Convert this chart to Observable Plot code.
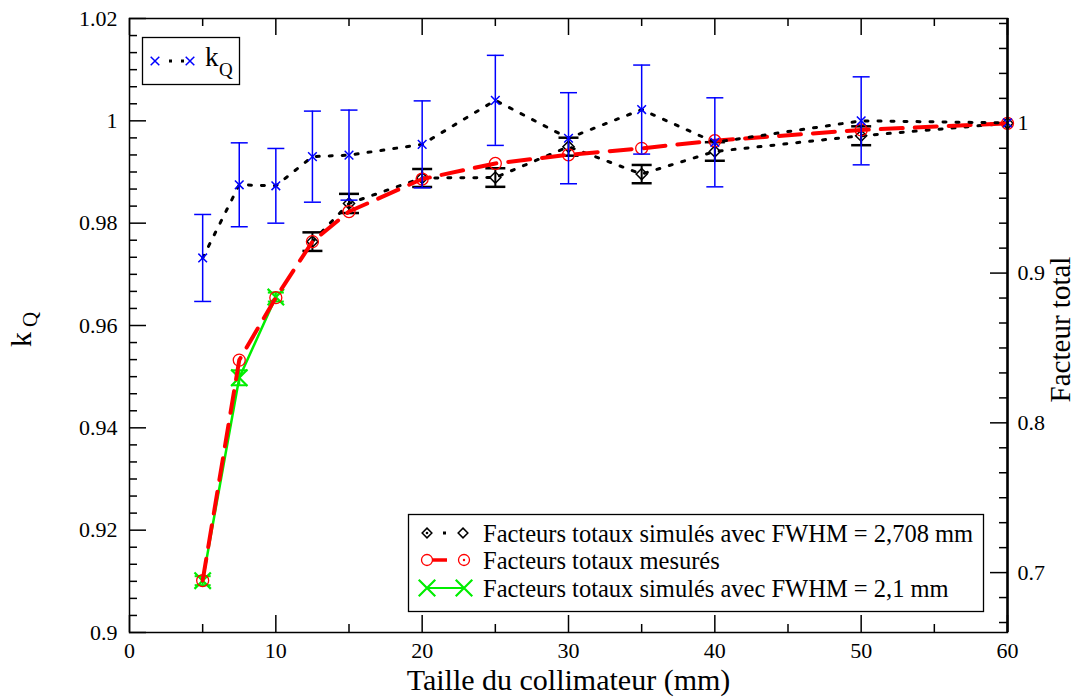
<!DOCTYPE html>
<html><head><meta charset="utf-8">
<script src="https://cdn.jsdelivr.net/npm/d3@7"></script>
<script src="https://cdn.jsdelivr.net/npm/@observablehq/plot@0.6"></script>
<style>body{margin:0;background:#fff}svg{display:block}</style>
</head><body><div id="chart"></div>
<script>
// ---- data ----
const collimator = [5, 7.5, 10, 12.5, 15, 20, 25, 30, 35, 40, 50, 60];
const kQ        = [0.9732, 0.9875, 0.9873, 0.9930, 0.9933, 0.9954, 1.0040, 0.9966, 1.0022, 0.9958, 1.0000, 0.9996];
const kQErr     = [0.0085, 0.0082, 0.0073, 0.0089, 0.0088, 0.0085, 0.0088, 0.0089, 0.0087, 0.0087, 0.0086, 0];
const measured  = [0.6947, 0.8419, 0.8836, 0.9210, 0.9411, 0.9628, 0.9732, 0.9790, 0.9833, 0.9884, 0.9956, 1.0000];
const sim2708X  = [12.5, 15, 20, 25, 30, 35, 40, 50, 60];
const sim2708   = [0.9210, 0.9465, 0.9635, 0.9638, 0.9844, 0.9661, 0.9812, 0.9917, 1.0000];
const sim2708Err= [0.0062, 0.0064, 0.0060, 0.0062, 0.0060, 0.0061, 0.0062, 0.0063, 0];
const sim21X    = [5, 7.5, 10];
const sim21     = [0.6946, 0.8301, 0.8840];
const sim21Err  = [0.0030, 0.0050, 0.0030];
const xTickLabels = [0, 10, 20, 30, 40, 50, 60];
const leftTickLabels = [0.9, 0.92, 0.94, 0.96, 0.98, 1, 1.02];
const rightTickLabels = [0.7, 0.8, 0.9, 1];
const legendKQ = "k";
const legendKQSub = "Q";
const legendSeries = [
  "Facteurs totaux simulés avec FWHM = 2,708 mm",
  "Facteurs totaux mesurés",
  "Facteurs totaux simulés avec FWHM = 2,1 mm"
];
const xLabel = "Taille du collimateur (mm)";
const rightLabel = "Facteur total";

// ---- layout ----
const W = 1081, H = 698, mL = 129, mR = 74, mT = 18, mB = 66;
const plotW = W - mL - mR, plotH = H - mT - mB;
const leftDomain = [0.9, 1.02], rightDomain = [0.66, 1.07];
const toLeft = v => leftDomain[0] + (v - rightDomain[0]) * (leftDomain[1] - leftDomain[0]) / (rightDomain[1] - rightDomain[0]);
const fromLeft = v => rightDomain[0] + (v - leftDomain[0]) * (rightDomain[1] - rightDomain[0]) / (leftDomain[1] - leftDomain[0]);
const FONT = '"Liberation Serif", "Times New Roman", Times, serif';
const BLUE = "#0000ff", RED = "#ff0000", GREEN = "#00ee00", BLACK = "#000";

const kqRows = collimator.map((x, i) => ({x, y: kQ[i], lo: kQ[i] - kQErr[i], hi: kQ[i] + kQErr[i], e: kQErr[i]}));
const measRows = collimator.map((x, i) => ({x, y: toLeft(measured[i])}));
const simRows = sim2708X.map((x, i) => ({x, y: toLeft(sim2708[i]), lo: toLeft(sim2708[i] - sim2708Err[i]), hi: toLeft(sim2708[i] + sim2708Err[i]), e: sim2708Err[i]}));
const s21Rows = sim21X.map((x, i) => ({x, y: toLeft(sim21[i]), lo: toLeft(sim21[i] - sim21Err[i]), hi: toLeft(sim21[i] + sim21Err[i])}));

// tick positions
const xMajor = xTickLabels;
const xMinor = d3.range(5, 60, 10);
const leftAll = d3.range(37).map(i => +(leftDomain[0] + i * 0.02 / 6).toFixed(6));
const leftMajor = leftAll.filter((d, i) => i % 6 === 0);
const leftMinor = leftAll.filter((d, i) => i % 6 !== 0);
const rightAll = d3.range(-2, 23).map(i => ({i, v: 0.7 + i / 60}));
const rightMajor = rightAll.filter(d => d.i % 6 === 0).map(d => toLeft(d.v));
const rightMinor = rightAll.filter(d => d.i % 6 !== 0).map(d => toLeft(d.v));

const cap = {draw(ctx, size) { const r = Math.sqrt(size / Math.PI); ctx.moveTo(-r, 0); ctx.lineTo(r, 0); }};
const MAJ = 17, MIN = 8;

function legends() {
  const g = d3.create("svg:g").attr("font-family", FONT).attr("text-anchor", "start");
  // legend 1
  g.append("rect").attr("x", 142.5).attr("y", 37.5).attr("width", 97).attr("height", 47)
    .attr("fill", "white").attr("stroke", BLACK).attr("stroke-width", 1.3);
  for (const x of [169, 181]) g.append("rect").attr("x", x).attr("y", 59.5).attr("width", 3).attr("height", 3).attr("fill", BLACK);
  for (const x of [155, 190]) g.append("path").attr("transform", `translate(${x},61)`)
    .attr("d", d3.symbol(d3.symbolTimes, 50)()).attr("fill", "none").attr("stroke", BLUE).attr("stroke-width", 1.5);
  g.append("text").attr("x", 205).attr("y", 66).attr("font-size", 27).text(legendKQ);
  g.append("text").attr("x", 219).attr("y", 76).attr("font-size", 19).text(legendKQSub);
  // legend 2
  g.append("rect").attr("x", 408.5).attr("y", 514.5).attr("width", 575).attr("height", 97)
    .attr("fill", "white").attr("stroke", BLACK).attr("stroke-width", 1.3);
  const rows = [533, 560, 588];
  // row 1: black diamonds dotted
  g.append("rect").attr("x", 443).attr("y", rows[0] - 1.5).attr("width", 3).attr("height", 3).attr("fill", BLACK);
  for (const x of [427, 463]) g.append("path").attr("transform", `translate(${x},${rows[0]})`)
    .attr("d", d3.symbol(d3.symbolDiamond2, 60)()).attr("fill", "none").attr("stroke", BLACK).attr("stroke-width", 1.5);
  g.append("circle").attr("cx", 427).attr("cy", rows[0]).attr("r", 1.3).attr("fill", BLACK);
  // row 2: red circles dashed
  g.append("line").attr("x1", 432).attr("x2", 447).attr("y1", rows[1]).attr("y2", rows[1]).attr("stroke", RED).attr("stroke-width", 3.5);
  for (const x of [427, 464]) g.append("circle").attr("cx", x).attr("cy", rows[1]).attr("r", 5.5)
    .attr("fill", "none").attr("stroke", RED).attr("stroke-width", 1.3);
  g.append("circle").attr("cx", 464).attr("cy", rows[1]).attr("r", 1.2).attr("fill", RED);
  // row 3: green X solid
  g.append("line").attr("x1", 427).attr("x2", 464).attr("y1", rows[2]).attr("y2", rows[2]).attr("stroke", GREEN).attr("stroke-width", 2);
  for (const x of [427, 464]) g.append("path").attr("transform", `translate(${x},${rows[2]})`)
    .attr("d", d3.symbol(d3.symbolTimes, 180)()).attr("fill", "none").attr("stroke", GREEN).attr("stroke-width", 2.2);
  legendSeries.forEach((t, i) => g.append("text").attr("x", 483).attr("y", rows[i]).attr("dy", "0.35em")
    .attr("font-size", 24.5).text(t));
  return g.node();
}

const plot = Plot.plot({
  width: W, height: H,
  marginLeft: mL, marginRight: mR, marginTop: mT, marginBottom: mB,
  style: {fontFamily: FONT, fontSize: "22px", background: "white", color: BLACK},
  x: {domain: [0, 60]},
  y: {domain: leftDomain},
  marks: [
    // ticks (inward)
    Plot.tickY(leftMajor, {insetRight: plotW - MAJ, stroke: BLACK, strokeWidth: 1.5}),
    Plot.tickY(leftMinor, {insetRight: plotW - MIN, stroke: BLACK, strokeWidth: 1.5}),
    Plot.tickY(rightMajor, {insetLeft: plotW - MAJ, stroke: BLACK, strokeWidth: 1.5}),
    Plot.tickY(rightMinor, {insetLeft: plotW - MIN, stroke: BLACK, strokeWidth: 1.5}),
    Plot.tickX(xMajor, {insetTop: plotH - MAJ, stroke: BLACK, strokeWidth: 1.5}),
    Plot.tickX(xMinor, {insetTop: plotH - MIN, stroke: BLACK, strokeWidth: 1.5}),
    Plot.tickX(xMajor, {insetBottom: plotH - MAJ, stroke: BLACK, strokeWidth: 1.5}),
    Plot.tickX(xMinor, {insetBottom: plotH - MIN, stroke: BLACK, strokeWidth: 1.5}),
    // axes labels
    Plot.axisX({ticks: xTickLabels, tickSize: 0, tickPadding: 10, fontSize: 22, fontFamily: FONT, label: null}),
    Plot.axisY({ticks: leftTickLabels, tickSize: 0, tickPadding: 12, fontSize: 22, fontFamily: FONT, label: null, tickFormat: d => String(d)}),
    Plot.axisY({anchor: "right", ticks: rightTickLabels.map(toLeft), tickSize: 0, tickPadding: 10, fontSize: 22, fontFamily: FONT, label: null,
      tickFormat: d => String(+fromLeft(d).toFixed(2))}),
    Plot.text([xLabel], {frameAnchor: "bottom", dy: 48, fontSize: 30, fontFamily: FONT, textAnchor: "middle", lineAnchor: "middle"}),
    Plot.text([rightLabel], {frameAnchor: "right", dx: 53, dy: 4, rotate: -90, fontSize: 29, fontFamily: FONT, textAnchor: "middle", lineAnchor: "middle"}),
    Plot.text(["k"], {frameAnchor: "left", dx: -108, dy: 14, rotate: -90, fontSize: 30, fontFamily: FONT, textAnchor: "middle", lineAnchor: "middle"}),
    Plot.text(["Q"], {frameAnchor: "left", dx: -99, dy: -6, rotate: -90, fontSize: 21, fontFamily: FONT, textAnchor: "middle", lineAnchor: "middle"}),
    // green series
    Plot.line(s21Rows, {x: "x", y: "y", stroke: GREEN, strokeWidth: 2.5}),
    Plot.ruleX(s21Rows, {x: "x", y1: "lo", y2: "hi", stroke: GREEN, strokeWidth: 2}),
    Plot.dot(s21Rows, {x: "x", y: "lo", symbol: cap, r: 8, stroke: GREEN, fill: "none", strokeWidth: 2}),
    Plot.dot(s21Rows, {x: "x", y: "hi", symbol: cap, r: 8, stroke: GREEN, fill: "none", strokeWidth: 2}),
    Plot.dot(s21Rows, {x: "x", y: "y", symbol: "times", r: 7.5, stroke: GREEN, strokeWidth: 2.2}),
    // black diamonds series
    Plot.line(simRows, {x: "x", y: "y", stroke: BLACK, strokeWidth: 3, strokeDasharray: "3 10"}),
    Plot.ruleX(simRows.filter(d => d.e > 0), {x: "x", y1: "lo", y2: "hi", stroke: BLACK, strokeWidth: 2}),
    Plot.dot(simRows, {x: "x", y: "lo", symbol: cap, r: 10, stroke: BLACK, fill: "none", strokeWidth: 2.5, clip: true}),
    Plot.dot(simRows, {x: "x", y: "hi", symbol: cap, r: 10, stroke: BLACK, fill: "none", strokeWidth: 2.5, clip: true}),
    Plot.dot(simRows, {x: "x", y: "y", symbol: "diamond2", r: 5, stroke: BLACK, fill: "none", strokeWidth: 1.5}),
    // measured
    Plot.line(measRows, {x: "x", y: "y", stroke: RED, strokeWidth: 4, strokeDasharray: "22 12"}),
    Plot.dot(measRows, {x: "x", y: "y", symbol: "circle", r: 6, stroke: RED, fill: "none", strokeWidth: 1.3}),
    // kQ
    Plot.line(kqRows, {x: "x", y: "y", stroke: BLACK, strokeWidth: 3, strokeDasharray: "3 10"}),
    Plot.ruleX(kqRows.filter(d => d.e > 0), {x: "x", y1: "lo", y2: "hi", stroke: BLUE, strokeWidth: 1.5}),
    Plot.dot(kqRows.filter(d => d.e > 0), {x: "x", y: "lo", symbol: cap, r: 8.5, stroke: BLUE, fill: "none", strokeWidth: 1.5}),
    Plot.dot(kqRows.filter(d => d.e > 0), {x: "x", y: "hi", symbol: cap, r: 8.5, stroke: BLUE, fill: "none", strokeWidth: 1.5}),
    Plot.dot(kqRows, {x: "x", y: "y", symbol: "times", r: 4, stroke: BLUE, strokeWidth: 1.5}),
    // frame
    Plot.frame({stroke: BLACK, strokeWidth: 1.5}),
    Plot.ruleX([60], {stroke: BLACK, strokeWidth: 2.5}),
    legends
  ]
});
document.getElementById("chart").appendChild(plot);
</script></body></html>
